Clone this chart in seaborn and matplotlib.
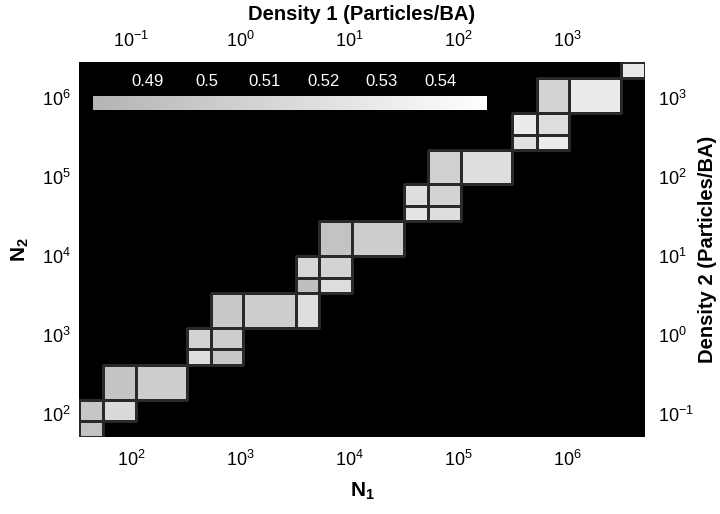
import numpy as np
import pandas as pd
import matplotlib
matplotlib.use("Agg")
import matplotlib.pyplot as plt
from matplotlib.colors import LinearSegmentedColormap
import seaborn as sns

sns.set_theme(style="white")
plt.rcParams["font.family"] = ["Liberation Sans", "DejaVu Sans"]
plt.rcParams["mathtext.fontset"] = "custom"
plt.rcParams["mathtext.rm"] = "Liberation Sans"
plt.rcParams["mathtext.bf"] = "Liberation Sans:bold"
plt.rcParams["axes.unicode_minus"] = False
plt.rcParams["text.color"] = "black"
plt.rcParams["axes.labelcolor"] = "black"
plt.rcParams["xtick.color"] = "black"
plt.rcParams["ytick.color"] = "black"

# ── Data ──────────────────────────────────────────────────────────────────────
# bin edges in particle number
n1_edges = [33.3, 55.4, 111, 327, 542, 1067, 3270, 5310, 10670, 32000,
            53100, 106700, 312700, 530900, 1.04e6, 3.13e6, 5.2e6]
n2_edges = [51.2, 81.5, 150, 417, 665, 1227, 3400, 5270, 10000, 27700,
            43000, 81500, 220000, 340700, 646000, 1.79e6, 2.86e6]

# occupied bins: index along N1, index along N2, value
cell_i = [0, 0, 1, 1, 2, 3, 4, 3, 4, 4, 5, 6, 6, 7, 6, 7, 7, 8,
          9, 10, 9, 10, 10, 11, 12, 13, 12, 13, 13, 14, 15]
cell_j = [0, 1, 1, 2, 2, 3, 3, 4, 4, 5, 5, 5, 6, 6, 7, 7, 8, 8,
          9, 9, 10, 10, 11, 11, 12, 12, 13, 13, 14, 14, 15]
cell_val = [0.494, 0.497, 0.515, 0.495, 0.503, 0.518, 0.499, 0.508, 0.503,
            0.500, 0.503, 0.518, 0.490, 0.517, 0.512, 0.509, 0.494, 0.503,
            0.524, 0.518, 0.518, 0.509, 0.506, 0.518, 0.521, 0.530, 0.530,
            0.518, 0.508, 0.530, 0.527]

cbar_ticks = [0.49, 0.50, 0.51, 0.52, 0.53, 0.54]
vmin, vmax = 0.4806, 0.548
density_scale = 1000.0   # particles per BA

# ── Build table (one point at the geometric centre of each bin) ──────────────
e1 = np.array(n1_edges)
e2 = np.array(n2_edges)
df = pd.DataFrame({
    "N1": np.sqrt(e1[cell_i] * e1[np.array(cell_i) + 1]),
    "N2": np.sqrt(e2[cell_j] * e2[np.array(cell_j) + 1]),
    "val": cell_val,
})

cmap = LinearSegmentedColormap.from_list("grey_hi", ["#b4b4b4", "#ffffff"])

fig = plt.figure(figsize=(7.2, 5.14), dpi=100)
ax = fig.add_axes([79 / 720, 77 / 514, 566 / 720, 375 / 514])
cax = fig.add_axes([93 / 720, 404 / 514, 394 / 720, 14 / 514])
ax.set_facecolor("black")

sns.histplot(data=df, x="N1", y="N2", weights="val", log_scale=True,
             bins=[np.log10(e1), np.log10(e2)], cmap=cmap,
             vmin=vmin, vmax=vmax, cbar=True, cbar_ax=cax,
             cbar_kws=dict(orientation="horizontal", ticks=cbar_ticks), ax=ax)

# cell borders only around occupied bins
mesh = ax.collections[0]
mask = np.ma.getmaskarray(mesh.get_array()).ravel()
edges = np.zeros((mask.size, 4))
edges[~mask] = (0.16, 0.16, 0.16, 1.0)
mesh.set_edgecolor(edges)
mesh.set_linewidth(0.9)

ax.set_xlim(n1_edges[0], n1_edges[-1])
ax.set_ylim(n2_edges[0], n2_edges[-1])
ax.set_xlabel(r"$\mathbf{N_1}$", fontsize=15, labelpad=8)
ax.set_ylabel(r"$\mathbf{N_2}$", fontsize=15, labelpad=8)
ax.tick_params(which="both", length=0, labelsize=13)
ax.tick_params(axis="x", pad=9)
ax.tick_params(axis="y", pad=6)
for s in ax.spines.values():
    s.set_visible(False)

top = ax.secondary_xaxis("top", functions=(lambda v: v / density_scale,
                                           lambda v: v * density_scale))
right = ax.secondary_yaxis("right", functions=(lambda v: v / density_scale,
                                               lambda v: v * density_scale))
top.set_xlabel("Density 1 (Particles/BA)", fontsize=14.5, fontweight="bold",
               labelpad=8)
right.set_ylabel("Density 2 (Particles/BA)", fontsize=14.5, fontweight="bold",
                 labelpad=3)
top.tick_params(which="both", length=0, labelsize=13, pad=8)
right.tick_params(which="both", length=0, labelsize=13, pad=9)
for sec in (top, right):
    for s in sec.spines.values():
        s.set_visible(False)

# inset colour bar
cax.xaxis.set_ticks_position("top")
cax.set_xticks(cbar_ticks)
cax.set_xticklabels([f"{t:g}" for t in cbar_ticks])
cax.tick_params(axis="x", which="both", length=0, labelsize=12, pad=5)
for lbl in cax.get_xticklabels():
    lbl.set_color("white")
for s in cax.spines.values():
    s.set_visible(False)

fig.savefig("out.png", dpi=100)
